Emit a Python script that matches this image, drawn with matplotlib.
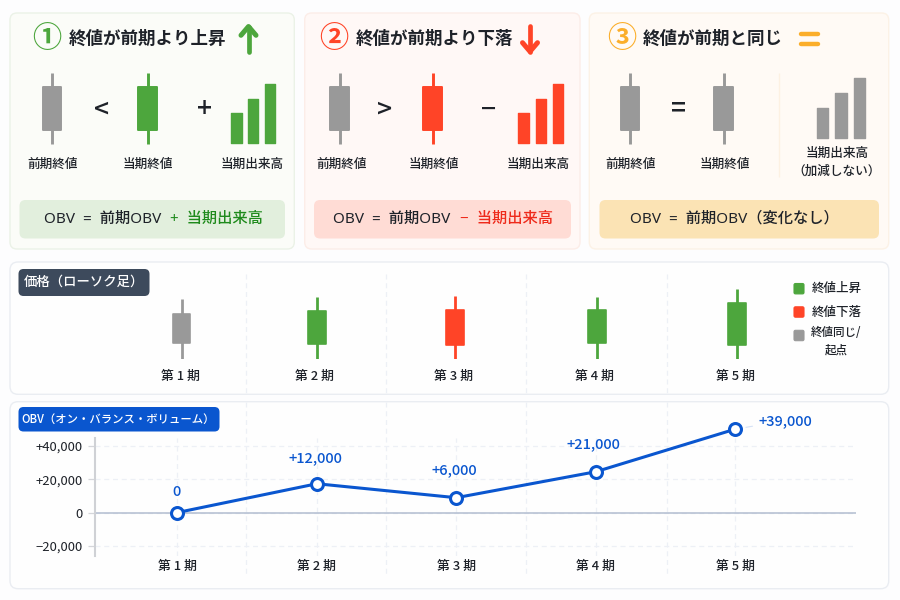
import matplotlib
matplotlib.use("Agg")
import matplotlib.pyplot as plt
from matplotlib.patches import FancyBboxPatch

plt.rcParams['font.family'] = ['Noto Sans CJK JP', 'DejaVu Sans']

# ---- data ----
periods = [1, 2, 3, 4, 5]
period_labels = ['第 1 期', '第 2 期', '第 3 期', '第 4 期', '第 5 期']
obv_plotted = [0, 17300, 8900, 24500, 50100]
obv_labels = ['0', '+12,000', '+6,000', '+21,000', '+39,000']
obv_ticks = [-20000, 0, 20000, 40000]
obv_ticklabels = ['−20,000', '0', '+20,000', '+40,000']

price_low = [0, 0, 0, 0, 0]
price_high = [60, 62, 62.5, 62, 69.5]
price_bottom = [16, 15, 14, 15.5, 14]
price_top = [44.5, 47.5, 48.5, 48.5, 55.5]
price_state = ['flat', 'up', 'down', 'up', 'up']

legend_labels = ['終値上昇', '終値下落', '終値同じ/\n起点']
legend_states = ['up', 'down', 'flat']

card_titles = ['終値が前期より上昇', '終値が前期より下落', '終値が前期と同じ']
card_marks = ['①', '②', '③']
card_ops = [['<', '+'], ['>', '−'], ['=']]
label_prev = '前期終値'
label_cur = '当期終値'
label_vol = '当期出来高'
label_vol_note = '（加減しない）'
icon_volume = [30, 44.5, 59.5]
formula_base = 'OBV  =  前期OBV'
formula_up = '+  当期出来高'
formula_down = '−  当期出来高'
formula_same = 'OBV  =  前期OBV（変化なし）'

# ---- style ----
COL = {'up': '#4da63d', 'down': '#ff4427', 'flat': '#999999'}
GREEN_TXT = '#1f8a1c'
RED_TXT = '#ee2a1b'
ORANGE = '#fbae2a'
BLUE = '#0a56cf'
DARK = '#1e2229'
GRID = '#edf0f6'
FORMULA_FONT = ['Noto Sans', 'Noto Sans CJK JP']

fig = plt.figure(figsize=(9, 6), dpi=100, facecolor='#fdfdfe')
bg = fig.add_axes([0, 0, 1, 1], zorder=0)
bg.set_xlim(0, 900)
bg.set_ylim(600, 0)
bg.axis('off')


def rbox(ax, x0, y0, x1, y1, r, fc, ec='none', lw=1.0, z=1):
    ax.add_patch(FancyBboxPatch((x0, y0), x1 - x0, y1 - y0,
                                boxstyle=f'round,pad=0,rounding_size={r}',
                                fc=fc, ec=ec, lw=lw, zorder=z))


def txt(x, y, s, size, color=DARK, weight='medium', ha='center', va='center', **kw):
    return bg.text(x, y, s, fontsize=size, color=color, fontweight=weight,
                   ha=ha, va=va, zorder=6, **kw)


# cards
cards = [(10, 13, 294.3, 249, '#fbfcf8', '#ebf2e7'),
         (304.7, 13, 580, 249, '#fff8f6', '#fcede8'),
         (589.3, 13, 888.7, 249, '#fffaf5', '#fcf2e6')]
for c in cards:
    rbox(bg, c[0], c[1], c[2], c[3], 7, c[4], c[5], 1.0)
rbox(bg, 10, 262, 888.7, 394.3, 8, '#fefefe', '#eaedf2', 1.0)
rbox(bg, 10, 401.7, 888.7, 588.7, 8, '#fefefe', '#eaedf2', 1.0)

# formula boxes
rbox(bg, 19.5, 200, 285, 238.5, 6, '#e2efdd', z=2)
rbox(bg, 314, 200, 571, 238.5, 6, '#ffdcd5', z=2)
rbox(bg, 599.5, 200, 879, 238.5, 6, '#fbe3b4', z=2)

# card titles
title_x = [69, 355.5, 643]
mark_x = [46.5, 333.5, 621.5]
mark_col = [COL['up'], COL['down'], ORANGE]
for t, m, tx, mx, mc in zip(card_titles, card_marks, title_x, mark_x, mark_col):
    txt(tx, 38.5, t, 12.6, ha='left', weight='bold')
    txt(mx, 38.5, m, 21, color=mc, weight='bold')


# arrows and equal sign
def arrow(x, y_tail, y_tip, col):
    d = 8 if y_tip > y_tail else -8
    bg.plot([x, x], [y_tail, y_tip], color=col, lw=3.4, solid_capstyle='round', zorder=5)
    bg.plot([x - 7.5, x, x + 7.5], [y_tip - d * 1.1, y_tip, y_tip - d * 1.1], color=col, lw=3.6,
            solid_capstyle='round', solid_joinstyle='round', zorder=5)


arrow(248.5, 52, 26.5, COL['up'])
arrow(530, 26, 51.5, COL['down'])
for yy in (34, 43.5):
    bg.plot([801, 818], [yy, yy], color=ORANGE, lw=3.2, solid_capstyle='round', zorder=5)


# icon candles
def icon_candle(x, state):
    bg.vlines(x, 72.5, 144, color=COL[state], lw=2.1, zorder=4)
    bg.bar(x, 42.5, width=18.6, bottom=87, color=COL[state], edgecolor=COL[state], lw=1.4,
           joinstyle='round', zorder=5)


def icon_vol(x_list, base, state, width):
    bg.bar(x_list, [-v for v in icon_volume], width=width, bottom=base, color=COL[state],
           edgecolor=COL[state], lw=1.0, joinstyle='round', zorder=5)


icon_candle(52, 'flat')
icon_candle(147.5, 'up')
icon_candle(339.5, 'flat')
icon_candle(432.5, 'down')
icon_candle(630, 'flat')
icon_candle(723.5, 'flat')
icon_vol([236.3, 253, 270], 143, 'up', 10.6)
icon_vol([523.5, 540.8, 558], 143, 'down', 10.6)
icon_vol([822.8, 841, 859.3], 137.5, 'flat', 11.4)
bg.vlines(779, 73, 177, color='#fdf1e2', lw=1.0, zorder=3)

# operators
op_pos = [[(101.5, 110), (205, 110)], [(385, 110), (489, 110)], [(678, 109)]]
for ops, poss in zip(card_ops, op_pos):
    for o, (x, y) in zip(ops, poss):
        txt(x, y, o, 19, weight='medium')

# icon labels
for x, s in [(53, label_prev), (148, label_cur), (252, label_vol),
             (341.5, label_prev), (434, label_cur), (538.5, label_vol),
             (631, label_prev), (724.5, label_cur)]:
    txt(x, 164, s, 9.1)
txt(837, 153.5, label_vol, 9.1)
txt(837, 171, label_vol_note, 9.1)

# formulas
txt(44, 219, formula_base, 11, ha='left', family=FORMULA_FONT)
txt(170, 219, formula_up, 11, color=GREEN_TXT, ha='left', family=FORMULA_FONT)
txt(333, 219, formula_base, 11, ha='left', family=FORMULA_FONT)
txt(460, 219, formula_down, 11, color=RED_TXT, ha='left', family=FORMULA_FONT)
txt(630, 219, formula_same, 11, ha='left', family=FORMULA_FONT)

# separators running through the lower panels
for x in (245.5, 385.5, 525.5, 666.5):
    bg.vlines(x, 274, 393, color=GRID, lw=0.9, linestyles=(0, (4, 3)), zorder=2)
    bg.vlines(x, 402, 575, color=GRID, lw=0.9, linestyles=(0, (4, 3)), zorder=2)

# chips
rbox(bg, 18.5, 269, 149.5, 296, 5, '#3d4a5c', z=4)
txt(84, 282, '価格（ローソク足）', 9.6, color='white')
rbox(bg, 18.5, 407, 219.5, 431.5, 5, BLUE, z=4)
txt(118, 419, 'OBV（オン・バランス・ボリューム）', 8.2, color='white', weight='medium')


# ---- price axes ----
def px_axes(x0, y0, x1, y1, z=3):
    a = fig.add_axes([x0 / 900, 1 - y1 / 600, (x1 - x0) / 900, (y1 - y0) / 600], zorder=z)
    a.patch.set_alpha(0)
    return a


spacing = 139.4
x_left = 1 - (177.5 - 95) / spacing
x_right = 5 + (856 - 735) / spacing

ap = px_axes(95, 285, 856, 358.5)
ap.set_xlim(x_left, x_right)
ap.set_ylim(0, 73.5)
ap.axis('off')
price_x = [1.03, 2.0, 2.99, 4.01, 5.015]
for x, lo, hi, b, t, s in zip(price_x, price_low, price_high, price_bottom, price_top, price_state):
    ap.vlines(x, lo, hi, color=COL[s], lw=2.0, zorder=2)
    ap.bar(x, t - b, width=17.5 / spacing, bottom=b, color=COL[s], edgecolor=COL[s], lw=1.2,
           joinstyle='round', zorder=3)

for x, s, y in zip([180, 314.5, 454, 594, 735], period_labels, [376.5] * 5):
    txt(x, y, s, 9.3)

# legend
for y, s, st in zip([288.7, 312, 335.5], legend_labels, legend_states):
    rbox(bg, 794, y - 5.2, 804, y + 5.2, 1.5, COL[st], COL[st], 0.8, z=5)
txt(837, 288.5, legend_labels[0], 9)
txt(837, 312, legend_labels[1], 9)
txt(836.5, 341.5, legend_labels[2], 8.3, linespacing=1.45)

# ---- OBV axes ----
ax = px_axes(95, 438, 856, 556, z=4)
ax.set_xlim(x_left, x_right)
px_per = 33.25 / 20000
ax.set_ylim(-(556 - 512.5) / px_per, (512.5 - 438) / px_per)
ax.set_yticks(obv_ticks)
ax.set_yticklabels(obv_ticklabels, fontsize=9.4, color=DARK)
ax.set_xticks(periods)
ax.set_xticklabels(period_labels, fontsize=9.3, color=DARK, fontweight='medium')
ax.tick_params(axis='x', length=0, pad=2.5)
ax.tick_params(axis='y', length=5, width=0.9, color='#d4d6da', pad=4)
for k in ('top', 'right', 'bottom'):
    ax.spines[k].set_visible(False)
ax.spines['left'].set_color('#cfd1d5')
ax.spines['left'].set_linewidth(1.5)
ax.grid(True, color=GRID, lw=0.9, linestyle=(0, (4, 3)), zorder=0)
ax.set_axisbelow(True)
ax.axhline(0, color='#b2bdd0', lw=1.1, zorder=1)
ax.plot(periods, obv_plotted, color=BLUE, lw=2.2, marker='o', ms=8.6, mfc='white',
        mec=BLUE, mew=2.2, clip_on=False, zorder=5)

label_offsets = [(-0.5, 20), (-1.5, 25.5), (-1.5, 27.2), (-2, 27.2)]
for x, y, s, off in zip(periods, obv_plotted, obv_labels, label_offsets):
    ax.annotate(s, (x, y), xytext=off, textcoords='offset pixels', ha='center', va='center',
                fontsize=10.5, color=BLUE, fontweight='medium', annotation_clip=False)
ax.annotate(obv_labels[4], (periods[4], obv_plotted[4]), xytext=(23, 8.5), textcoords='offset pixels',
            ha='left', va='center', fontsize=10.5, color=BLUE, fontweight='medium',
            annotation_clip=False,
            arrowprops=dict(arrowstyle='-', color='#d6e2f6', lw=0.8, shrinkA=2, shrinkB=8))

fig.savefig('out.png', dpi=100, facecolor=fig.get_facecolor())
